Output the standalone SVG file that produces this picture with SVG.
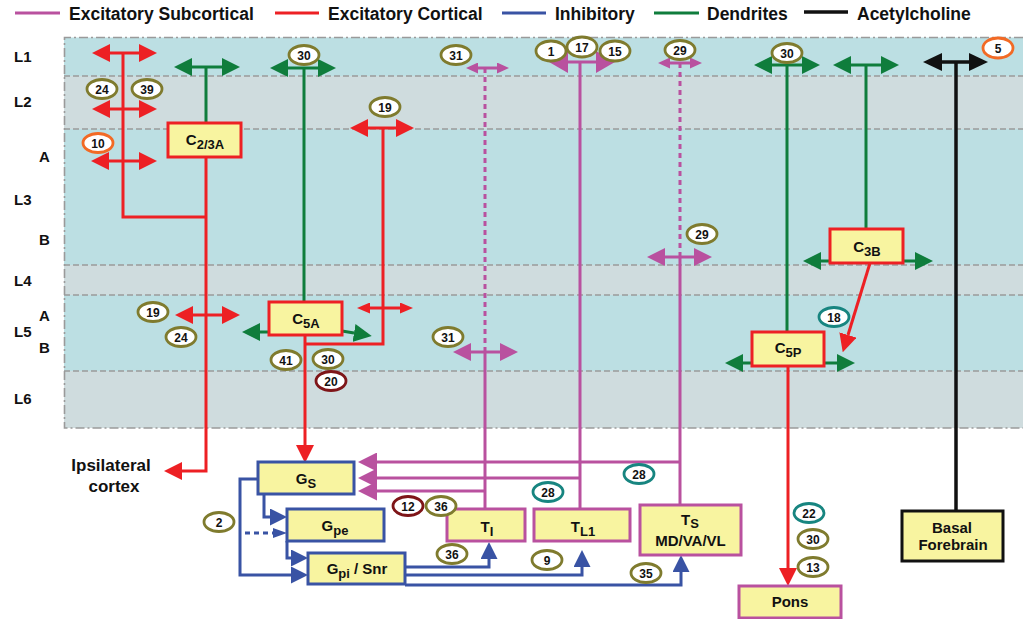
<svg xmlns="http://www.w3.org/2000/svg" width="1023" height="619" viewBox="0 0 1023 619">
  <style>
    text { font-family: "Liberation Sans", Arial, sans-serif; font-weight: bold; fill: #111; }
    .legend { font-size: 17.5px; }
    .layer { font-size: 15px; }
    .box { fill: #f8f4a0; stroke-width: 3; }
    .bred { stroke: #ed2024; }
    .bblue { stroke: #3953a4; }
    .bmag { stroke: #b9519f; }
    .bblack { stroke: #111; }
    .btxt { font-size: 15px; text-anchor: middle; }
    .sub { font-size: 13px; }
    .tag ellipse { fill: #fff; stroke-width: 2.8; }
    .tag text { font-size: 12px; text-anchor: middle; }
    .olive { stroke: #7f7b2e; }
    .teal { stroke: #178580; }
    .dred { stroke: #7e1518; }
    .orange { stroke: #f26a25; }
    .red { stroke: #ed2024; fill: none; stroke-width: 3; }
    .green { stroke: #0f7d3c; fill: none; stroke-width: 3; }
    .mag { stroke: #b9519f; fill: none; stroke-width: 3; }
    .blue { stroke: #3953a4; fill: none; stroke-width: 3; }
    .black { stroke: #111; fill: none; stroke-width: 3.5; }
    .dash { stroke-dasharray: 5 4; }
    .band-edge { stroke: #9a9a9a; stroke-width: 1.6; fill: none; stroke-dasharray: 6 3; }
    .band-out { stroke: #9a9a9a; stroke-width: 1.6; fill: none; stroke-dasharray: 9 3 2 3; }
  </style>
  <defs>
    <marker id="aRed" markerUnits="userSpaceOnUse" viewBox="0 0 18 18" markerWidth="18" markerHeight="18" refX="0" refY="9" orient="auto-start-reverse"><path d="M0,0 L18,9 L0,18z" fill="#ed2024"/></marker>
    <marker id="aRedS" markerUnits="userSpaceOnUse" viewBox="0 0 13 11" markerWidth="13" markerHeight="11" refX="0" refY="5.5" orient="auto-start-reverse"><path d="M0,0 L13,5.5 L0,11z" fill="#ed2024"/></marker>
    <marker id="aGreen" markerUnits="userSpaceOnUse" viewBox="0 0 18 18" markerWidth="18" markerHeight="18" refX="0" refY="9" orient="auto-start-reverse"><path d="M0,0 L18,9 L0,18z" fill="#0f7d3c"/></marker>
    <marker id="aMag" markerUnits="userSpaceOnUse" viewBox="0 0 18 18" markerWidth="18" markerHeight="18" refX="0" refY="9" orient="auto-start-reverse"><path d="M0,0 L18,9 L0,18z" fill="#b9519f"/></marker>
    <marker id="aMagXL" markerUnits="userSpaceOnUse" viewBox="0 0 19 22" markerWidth="19" markerHeight="22" refX="0" refY="11" orient="auto-start-reverse"><path d="M0,0 L19,11 L0,22z" fill="#b9519f"/></marker>
    <marker id="aMagG" markerUnits="userSpaceOnUse" viewBox="0 0 19 19" markerWidth="19" markerHeight="19" refX="0" refY="9.5" orient="auto-start-reverse"><path d="M0,0 L19,9.5 L0,19z" fill="#b9519f"/></marker>
    <marker id="aMagS" markerUnits="userSpaceOnUse" viewBox="0 0 12 11" markerWidth="12" markerHeight="11" refX="0" refY="5.5" orient="auto-start-reverse"><path d="M0,0 L12,5.5 L0,11z" fill="#b9519f"/></marker>
    <marker id="aBlack" markerUnits="userSpaceOnUse" viewBox="0 0 19 18" markerWidth="19" markerHeight="18" refX="0" refY="9" orient="auto-start-reverse"><path d="M0,0 L19,9 L0,18z" fill="#111"/></marker>
    <marker id="aBlue" markerUnits="userSpaceOnUse" viewBox="0 0 17 17" markerWidth="17" markerHeight="17" refX="0" refY="8.5" orient="auto-start-reverse"><path d="M0,0 L17,8.5 L0,17z" fill="#3953a4"/></marker>
    <marker id="aBlueS" markerUnits="userSpaceOnUse" viewBox="0 0 14 10" markerWidth="14" markerHeight="10" refX="0" refY="5" orient="auto-start-reverse"><path d="M0,0 L14,5 L0,10z" fill="#3953a4"/></marker>
  </defs>

  <!-- legend -->
  <g id="legend">
    <line x1="15" y1="13" x2="60" y2="13" class="mag" stroke-width="3.5"/>
    <text x="69" y="20" class="legend">Excitatory Subcortical</text>
    <line x1="275" y1="13" x2="319" y2="13" class="red" stroke-width="3.5"/>
    <text x="328" y="20" class="legend">Excitatory Cortical</text>
    <line x1="502" y1="13" x2="546" y2="13" class="blue" stroke-width="3.5"/>
    <text x="555" y="20" class="legend">Inhibitory</text>
    <line x1="654" y1="13" x2="699" y2="13" class="green" stroke-width="3.5"/>
    <text x="707" y="20" class="legend">Dendrites</text>
    <line x1="804" y1="12" x2="848" y2="12" class="black"/>
    <text x="857" y="20" class="legend">Acetylcholine</text>
  </g>

  <!-- cortical layers -->
  <g id="layers">
    <rect x="64" y="37.5" width="960" height="38.5" fill="#bcdfe3"/>
    <rect x="64" y="76" width="960" height="53" fill="#cfdcde"/>
    <rect x="64" y="129" width="960" height="136" fill="#bcdfe3"/>
    <rect x="64" y="265" width="960" height="30" fill="#cfdcde"/>
    <rect x="64" y="295" width="960" height="76" fill="#bcdfe3"/>
    <rect x="64" y="371" width="960" height="57" fill="#cfdcde"/>
    <path class="band-edge" d="M64,76 H1023 M64,129 H1023 M64,265 H1023 M64,295 H1023 M64,371 H1023"/>
    <path class="band-out" d="M1023,37.5 H64.5 V428 H1023"/>
    <text x="14" y="62" class="layer">L1</text>
    <text x="14" y="107" class="layer">L2</text>
    <text x="39" y="162" class="layer">A</text>
    <text x="14" y="205" class="layer">L3</text>
    <text x="39" y="245" class="layer">B</text>
    <text x="14" y="286" class="layer">L4</text>
    <text x="39" y="321" class="layer">A</text>
    <text x="14" y="337" class="layer">L5</text>
    <text x="39" y="353" class="layer">B</text>
    <text x="14" y="404" class="layer">L6</text>
  </g>

  <!-- connectors -->
  <g id="connectors">
    <!-- C2/3A dendrite and axon -->
    <path class="green" d="M206,67 V123" stroke-width="2.5"/>
    <line class="green" x1="192" y1="67" x2="222" y2="67" marker-start="url(#aGreen)" marker-end="url(#aGreen)"/>
    <path class="red" d="M123,53 V217 H206"/>
    <line class="red" x1="110" y1="53" x2="139" y2="53" marker-start="url(#aRed)" marker-end="url(#aRed)"/>
    <line class="red" x1="110" y1="109" x2="139" y2="109" marker-start="url(#aRed)" marker-end="url(#aRed)"/>
    <line class="red" x1="109" y1="161" x2="139" y2="161" marker-start="url(#aRed)" marker-end="url(#aRed)"/>
    <path class="red" d="M206,157 V471 H182" marker-end="url(#aRed)"/>
    <line class="red" x1="193" y1="315" x2="222" y2="315" marker-start="url(#aRed)" marker-end="url(#aRed)"/>

    <!-- C5A dendrite and axon -->
    <path class="green" d="M304,68 V302" stroke-width="2.5"/>
    <line class="green" x1="288" y1="68" x2="318" y2="68" marker-start="url(#aGreen)" marker-end="url(#aGreen)"/>
    <path class="green" d="M269,332 H260" marker-end="url(#aGreen)"/>
    <path class="green" d="M342,331 L354,333" marker-end="url(#aGreen)"/>
    <path class="red" d="M305,335 V445" marker-end="url(#aRed)"/>
    <path class="red" d="M305,344 H383 V128"/>
    <line class="red" x1="368" y1="128" x2="396" y2="128" marker-start="url(#aRed)" marker-end="url(#aRed)"/>
    <line class="red" x1="370" y1="308" x2="400" y2="308" stroke-width="2.5" marker-start="url(#aRedS)" marker-end="url(#aRedS)"/>

    <!-- thalamic projections -->
    <path class="mag" d="M485,509 V352"/>
    <path class="mag dash" d="M485,352 V68" stroke-width="2.2"/>
    <line class="mag" x1="478" y1="68" x2="497" y2="68" stroke-width="2.5" marker-start="url(#aMagS)" marker-end="url(#aMagS)"/>
    <line class="mag" x1="471" y1="352" x2="500" y2="352" marker-start="url(#aMag)" marker-end="url(#aMag)"/>
    <path class="mag" d="M485,491 H377" marker-end="url(#aMagG)"/>

    <path class="mag" d="M580,509 V62"/>
    <line class="mag" x1="568" y1="62" x2="596" y2="62" stroke-width="3.5" marker-start="url(#aMagXL)" marker-end="url(#aMagXL)"/>
    <path class="mag" d="M580,478 H377" marker-end="url(#aMagG)"/>

    <path class="mag" d="M680,505 V257"/>
    <path class="mag dash" d="M680,257 V63" stroke-width="2.2"/>
    <line class="mag" x1="670" y1="63" x2="690" y2="63" stroke-width="2.5" marker-start="url(#aMagS)" marker-end="url(#aMagS)"/>
    <line class="mag" x1="665" y1="257" x2="694" y2="257" marker-start="url(#aMag)" marker-end="url(#aMag)"/>
    <path class="mag" d="M680,462 H377" marker-end="url(#aMagG)"/>

    <!-- C5P dendrite and axon -->
    <path class="green" d="M787,65 V332" stroke-width="2.5"/>
    <line class="green" x1="772" y1="65" x2="802" y2="65" marker-start="url(#aGreen)" marker-end="url(#aGreen)"/>
    <path class="green" d="M752,363 H743" marker-end="url(#aGreen)"/>
    <path class="green" d="M824,363 H837" marker-end="url(#aGreen)"/>
    <path class="red" d="M788,366 V568" marker-end="url(#aRed)"/>

    <!-- C3B dendrite and axon -->
    <path class="green" d="M866,65 V229" stroke-width="2.5"/>
    <line class="green" x1="851" y1="65" x2="881" y2="65" marker-start="url(#aGreen)" marker-end="url(#aGreen)"/>
    <path class="green" d="M830,261 H821" marker-end="url(#aGreen)"/>
    <path class="green" d="M903,261 H915" marker-end="url(#aGreen)"/>
    <path class="red" d="M870,263 L848,335" stroke-width="2.8" marker-end="url(#aRed)"/>

    <!-- cholinergic -->
    <path class="black" d="M956,62 V511"/>
    <line class="black" x1="942" y1="62" x2="969" y2="62" marker-start="url(#aBlack)" marker-end="url(#aBlack)"/>

    <!-- basal ganglia loops -->
    <path class="blue" d="M264,494 V517 H270" marker-end="url(#aBlue)"/>
    <path class="blue dash" d="M245,533 H273" stroke-width="2.5" marker-end="url(#aBlueS)"/>
    <path class="blue" d="M287,541 V558 H291" marker-end="url(#aBlue)"/>
    <path class="blue" d="M258,479 H240 V575 H291" marker-end="url(#aBlue)"/>
    <path class="blue" d="M405,567 H489 V559" marker-end="url(#aBlue)"/>
    <path class="blue" d="M405,575 H582 V567" marker-end="url(#aBlue)"/>
    <path class="blue" d="M405,585 H681 V572" marker-end="url(#aBlue)"/>
  </g>

  <!-- nodes -->
  <g id="c23a">
    <rect class="box bred" x="168" y="123" width="73" height="34"/>
    <text class="btxt" x="205" y="145">C<tspan class="sub" dy="4">2/3A</tspan></text>
  </g>
  <g id="c5a">
    <rect class="box bred" x="269" y="302" width="73" height="33"/>
    <text class="btxt" x="306" y="324">C<tspan class="sub" dy="4">5A</tspan></text>
  </g>
  <g id="c3b">
    <rect class="box bred" x="830" y="229" width="73" height="34"/>
    <text class="btxt" x="867" y="252">C<tspan class="sub" dy="4">3B</tspan></text>
  </g>
  <g id="c5p">
    <rect class="box bred" x="752" y="332" width="72" height="34"/>
    <text class="btxt" x="788" y="353">C<tspan class="sub" dy="4">5P</tspan></text>
  </g>
  <g id="gs">
    <rect class="box bblue" x="258" y="462" width="96" height="32"/>
    <text class="btxt" x="306" y="484">G<tspan class="sub" dy="4">S</tspan></text>
  </g>
  <g id="gpe">
    <rect class="box bblue" x="287" y="509" width="97" height="32"/>
    <text class="btxt" x="335" y="531">G<tspan class="sub" dy="4">pe</tspan></text>
  </g>
  <g id="gpi">
    <rect class="box bblue" x="308" y="553" width="97" height="31"/>
    <text class="btxt" x="357" y="574">G<tspan class="sub" dy="4">pi</tspan><tspan dy="-4"> / Snr</tspan></text>
  </g>
  <g id="ti">
    <rect class="box bmag" x="447" y="509" width="78" height="32"/>
    <text class="btxt" x="487" y="532">T<tspan class="sub" dy="4">I</tspan></text>
  </g>
  <g id="tl1">
    <rect class="box bmag" x="534" y="509" width="96" height="32"/>
    <text class="btxt" x="583" y="532">T<tspan class="sub" dy="4">L1</tspan></text>
  </g>
  <g id="ts">
    <rect class="box bmag" x="640" y="505" width="101" height="50"/>
    <text class="btxt" x="690" y="525">T<tspan class="sub" font-size="12" dy="3">S</tspan></text>
    <text class="btxt" x="690.5" y="546" font-size="14">MD/VA/VL</text>
  </g>
  <g id="pons">
    <rect class="box bmag" x="739" y="586" width="102" height="32"/>
    <text class="btxt" x="790" y="607" font-size="14">Pons</text>
  </g>
  <g id="basal-forebrain">
    <rect class="box bblack" x="902" y="511" width="101" height="50"/>
    <text class="btxt" x="952" y="533" font-size="14">Basal</text>
    <text class="btxt" x="953" y="550" font-size="14">Forebrain</text>
  </g>
  <g id="ipsilateral-cortex">
    <text x="111" y="471" font-size="17" text-anchor="middle">Ipsilateral</text>
    <text x="114" y="492" font-size="17" text-anchor="middle">cortex</text>
  </g>

  <!-- reference tags -->
  <g id="tags">
    <g class="tag"><ellipse class="olive" cx="102" cy="89" rx="15" ry="9.5"/><text x="102" y="93.5">24</text></g>
    <g class="tag"><ellipse class="olive" cx="147" cy="89" rx="15" ry="9.5"/><text x="147" y="93.5">39</text></g>
    <g class="tag"><ellipse class="olive" cx="304" cy="55" rx="15" ry="9.5"/><text x="304" y="59.5">30</text></g>
    <g class="tag"><ellipse class="olive" cx="385" cy="107" rx="15" ry="9.5"/><text x="385" y="111.5">19</text></g>
    <g class="tag"><ellipse class="olive" cx="456" cy="55" rx="15" ry="9.5"/><text x="456" y="59.5">31</text></g>
    <g class="tag"><ellipse class="olive" cx="551" cy="51" rx="15" ry="10"/><text x="551" y="55.5">1</text></g>
    <g class="tag"><ellipse class="olive" cx="615" cy="51" rx="15" ry="10"/><text x="615" y="55.5">15</text></g>
    <g class="tag"><ellipse class="olive" cx="582" cy="47" rx="15" ry="10"/><text x="582" y="51.5">17</text></g>
    <g class="tag"><ellipse class="olive" cx="680" cy="50" rx="15" ry="9.5"/><text x="680" y="54.5">29</text></g>
    <g class="tag"><ellipse class="olive" cx="787" cy="53" rx="15" ry="9.5"/><text x="787" y="57.5">30</text></g>
    <g class="tag"><ellipse class="orange" cx="998" cy="48" rx="15" ry="10"/><text x="998" y="52.5">5</text></g>
    <g class="tag"><ellipse class="orange" cx="98" cy="143" rx="15" ry="9.5"/><text x="98" y="147.5">10</text></g>
    <g class="tag"><ellipse class="olive" cx="702" cy="234" rx="15" ry="9.5"/><text x="702" y="238.5">29</text></g>
    <g class="tag"><ellipse class="olive" cx="153" cy="312" rx="15" ry="9.5"/><text x="153" y="316.5">19</text></g>
    <g class="tag"><ellipse class="olive" cx="181" cy="337" rx="15" ry="9.5"/><text x="181" y="341.5">24</text></g>
    <g class="tag"><ellipse class="olive" cx="448" cy="337" rx="15" ry="9.5"/><text x="448" y="341.5">31</text></g>
    <g class="tag"><ellipse class="olive" cx="286" cy="360" rx="15" ry="9.5"/><text x="286" y="364.5">41</text></g>
    <g class="tag"><ellipse class="olive" cx="328" cy="359" rx="15" ry="9.5"/><text x="328" y="363.5">30</text></g>
    <g class="tag"><ellipse class="dred" cx="331" cy="381" rx="15" ry="9.5"/><text x="331" y="385.5">20</text></g>
    <g class="tag"><ellipse class="teal" cx="834" cy="317" rx="15" ry="9.5"/><text x="834" y="321.5">18</text></g>
    <g class="tag"><ellipse class="olive" cx="219" cy="522" rx="15" ry="9.5"/><text x="219" y="526.5">2</text></g>
    <g class="tag"><ellipse class="dred" cx="408" cy="506" rx="15" ry="9.5"/><text x="408" y="510.5">12</text></g>
    <g class="tag"><ellipse class="olive" cx="441" cy="506" rx="15" ry="9.5"/><text x="441" y="510.5">36</text></g>
    <g class="tag"><ellipse class="olive" cx="452" cy="554" rx="15" ry="9.5"/><text x="452" y="558.5">36</text></g>
    <g class="tag"><ellipse class="teal" cx="548" cy="492" rx="15" ry="9.5"/><text x="548" y="496.5">28</text></g>
    <g class="tag"><ellipse class="teal" cx="639" cy="474" rx="15" ry="9.5"/><text x="639" y="478.5">28</text></g>
    <g class="tag"><ellipse class="olive" cx="547" cy="560" rx="15" ry="9.5"/><text x="547" y="564.5">9</text></g>
    <g class="tag"><ellipse class="olive" cx="646" cy="573" rx="15" ry="9.5"/><text x="646" y="577.5">35</text></g>
    <g class="tag"><ellipse class="teal" cx="809" cy="513" rx="15" ry="9.5"/><text x="809" y="517.5">22</text></g>
    <g class="tag"><ellipse class="olive" cx="813" cy="539" rx="15" ry="9.5"/><text x="813" y="543.5">30</text></g>
    <g class="tag"><ellipse class="olive" cx="813" cy="567" rx="15" ry="9.5"/><text x="813" y="571.5">13</text></g>
  </g>
</svg>
